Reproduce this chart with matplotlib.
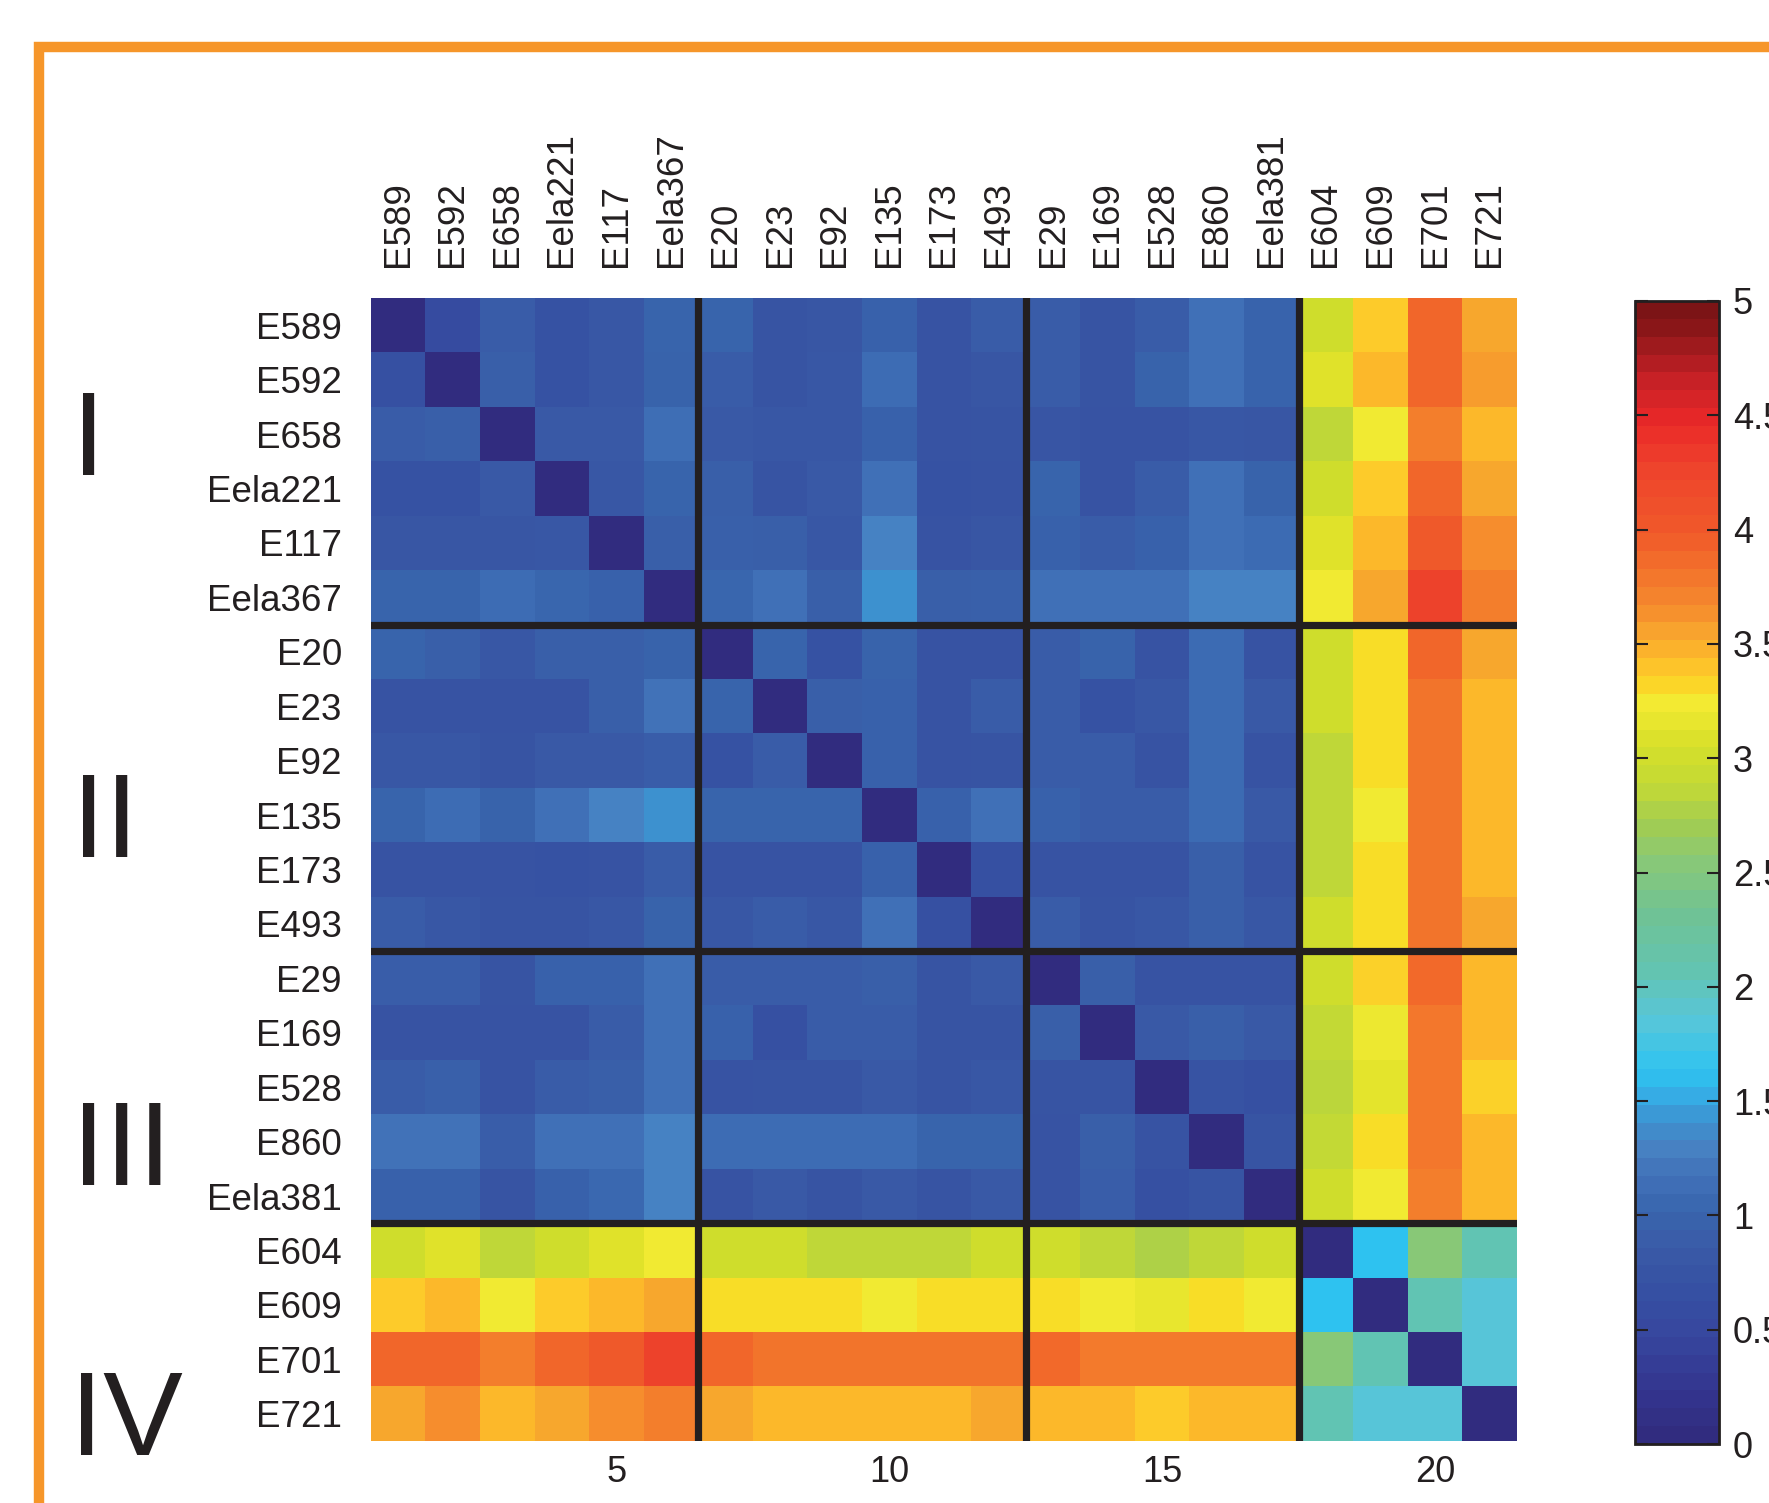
import numpy as np
import matplotlib
matplotlib.use("Agg")
import matplotlib.pyplot as plt
from matplotlib.colors import LinearSegmentedColormap, Normalize
from matplotlib.lines import Line2D
import matplotlib.cm as cm

plt.rcParams['font.family'] = ['Liberation Sans', 'DejaVu Sans']

# ---------------- data ----------------
strains = ["E589", "E592", "E658", "Eela221", "E117", "Eela367",
           "E20", "E23", "E92", "E135", "E173", "E493",
           "E29", "E169", "E528", "E860", "Eela381",
           "E604", "E609", "E701", "E721"]

group_names = ["I", "II", "III", "IV"]
group_boundaries = [6, 12, 17]          # number of strains before each separator
bottom_ticks = [5, 10, 15, 20]
cbar_ticks = [0, 0.5, 1, 1.5, 2, 2.5, 3, 3.5, 4, 4.5, 5]

dist = [
 [0.00,0.55,0.85,0.70,0.80,1.00, 1.00,0.75,0.78,0.95,0.72,0.85, 0.85,0.75,0.85,1.15,0.98, 3.00,3.38,3.92,3.55],
 [0.65,0.00,0.90,0.70,0.80,0.97, 0.85,0.75,0.80,1.10,0.72,0.78, 0.85,0.75,0.97,1.15,0.98, 3.12,3.45,3.92,3.60],
 [0.85,0.90,0.00,0.82,0.82,1.12, 0.82,0.80,0.80,0.95,0.72,0.75, 0.76,0.72,0.72,0.80,0.78, 2.87,3.25,3.75,3.45],
 [0.70,0.70,0.82,0.00,0.80,1.00, 0.90,0.75,0.82,1.15,0.70,0.72, 1.00,0.72,0.85,1.15,0.97, 3.00,3.38,3.92,3.55],
 [0.78,0.78,0.78,0.80,0.00,0.90, 0.92,0.90,0.80,1.28,0.72,0.78, 0.95,0.85,0.95,1.15,1.08, 3.12,3.45,4.00,3.67],
 [1.00,1.00,1.10,1.02,0.95,0.00, 1.02,1.15,0.90,1.40,0.90,0.92, 1.15,1.15,1.15,1.28,1.28, 3.25,3.55,4.30,3.75],
 [1.00,0.90,0.80,0.90,0.90,0.97, 0.00,1.00,0.70,0.97,0.72,0.72, 0.85,0.97,0.72,1.08,0.72, 3.00,3.30,3.92,3.55],
 [0.72,0.72,0.72,0.72,0.90,1.17, 1.00,0.00,0.90,0.95,0.72,0.85, 0.85,0.68,0.80,1.08,0.82, 3.00,3.30,3.82,3.45],
 [0.80,0.80,0.75,0.82,0.82,0.88, 0.70,0.85,0.00,0.95,0.72,0.75, 0.85,0.85,0.72,1.08,0.72, 2.87,3.30,3.82,3.45],
 [1.00,1.10,0.97,1.15,1.28,1.40, 1.00,1.00,1.00,0.00,0.95,1.15, 0.95,0.85,0.85,1.08,0.82, 2.87,3.25,3.82,3.45],
 [0.72,0.72,0.72,0.68,0.72,0.85, 0.72,0.72,0.72,0.95,0.00,0.65, 0.72,0.72,0.72,0.90,0.72, 2.87,3.30,3.82,3.45],
 [0.85,0.80,0.75,0.75,0.80,0.97, 0.80,0.85,0.80,1.15,0.65,0.00, 0.85,0.75,0.80,0.90,0.80, 3.00,3.30,3.82,3.55],
 [0.88,0.88,0.75,0.95,0.95,1.15, 0.85,0.85,0.85,0.90,0.75,0.82, 0.00,0.90,0.72,0.72,0.72, 3.00,3.35,3.90,3.45],
 [0.72,0.72,0.72,0.72,0.85,1.15, 0.95,0.65,0.85,0.85,0.75,0.75, 0.90,0.00,0.82,0.90,0.82, 2.90,3.22,3.80,3.45],
 [0.85,0.92,0.72,0.85,0.90,1.15, 0.72,0.75,0.75,0.82,0.75,0.80, 0.75,0.75,0.00,0.72,0.65, 2.85,3.15,3.80,3.35],
 [1.17,1.17,0.88,1.15,1.15,1.28, 1.10,1.10,1.10,1.10,1.00,1.00, 0.72,0.90,0.72,0.00,0.75, 2.90,3.30,3.80,3.45],
 [0.95,0.95,0.75,0.95,1.05,1.28, 0.72,0.82,0.75,0.82,0.75,0.82, 0.72,0.88,0.65,0.75,0.00, 3.00,3.25,3.75,3.45],
 [3.00,3.12,2.87,3.00,3.12,3.25, 3.00,3.00,2.87,2.87,2.87,3.00, 3.00,2.87,2.78,2.87,3.00, 0.00,1.62,2.55,2.05],
 [3.38,3.45,3.25,3.38,3.45,3.55, 3.30,3.30,3.30,3.25,3.30,3.30, 3.30,3.25,3.18,3.30,3.25, 1.62,0.00,2.05,1.85],
 [3.92,3.92,3.75,3.92,4.00,4.30, 3.92,3.82,3.82,3.82,3.82,3.82, 3.90,3.78,3.78,3.78,3.78, 2.55,2.05,0.00,1.85],
 [3.55,3.67,3.45,3.55,3.67,3.75, 3.55,3.45,3.45,3.45,3.45,3.55, 3.45,3.45,3.38,3.45,3.45, 2.05,1.85,1.85,0.00],
]

# ---------------- colormap ----------------
anchors = [
 (0.00,"#312c7f"),(0.20,"#33358f"),(0.45,"#37479e"),(0.65,"#3651a3"),
 (0.75,"#3855a4"),(0.85,"#3a5ca8"),(1.00,"#3865ad"),(1.10,"#3e6db5"),
 (1.17,"#4273b9"),(1.28,"#4782c3"),(1.40,"#3d92d0"),(1.50,"#37aae4"),
 (1.62,"#2ec4f1"),(1.85,"#58c6d8"),(2.05,"#62c4b3"),(2.30,"#6fc296"),
 (2.55,"#88c878"),(2.70,"#9fcc55"),(2.87,"#c0d838"),(3.00,"#cfdd2d"),
 (3.12,"#e0e22a"),(3.25,"#f2eb33"),(3.30,"#f9dd27"),(3.38,"#fdcd2a"),
 (3.45,"#fdb92a"),(3.55,"#f8a82e"),(3.67,"#f68d2d"),(3.75,"#f3802d"),
 (3.82,"#f3752c"),(3.92,"#f2672a"),(4.00,"#f05a2a"),(4.30,"#ee432c"),
 (4.50,"#ea2828"),(4.70,"#c42026"),(4.90,"#8e1719"),(5.00,"#7c1416"),
]
vmax = 5.0
cmap_fine = LinearSegmentedColormap.from_list("dist", [(v / vmax, c) for v, c in anchors], N=512)
cmap_bar = LinearSegmentedColormap.from_list("distbar", [(v / vmax, c) for v, c in anchors], N=64)
norm = Normalize(0, vmax)

W, H = 1769, 1503
fig = plt.figure(figsize=(W / 100, H / 100), dpi=100)

# heatmap axes
ax = fig.add_axes([371 / W, 62 / H, 1146 / W, 1143 / H])
M = np.array(dist)
n = len(strains)
ax.imshow(M, cmap=cmap_fine, norm=norm, aspect='auto', interpolation='nearest')
ax.set_xlim(-0.5, n - 0.5)
ax.set_ylim(n - 0.5, -0.5)
for s in ax.spines.values():
    s.set_visible(False)

line_col = "#231f20"
for b in group_boundaries:
    ax.axvline(b - 0.5, color=line_col, lw=5.2)
    ax.axhline(b - 0.5, color=line_col, lw=5.2)

ax.set_yticks(range(n))
ax.set_yticklabels(strains, fontsize=26.5, color="#231f20")
ax.tick_params(axis='y', length=0, pad=21)

ax.set_xticks([t - 1 for t in bottom_ticks])
ax.set_xticklabels([str(t) for t in bottom_ticks], fontsize=26, color="#231f20")
ax.tick_params(axis='x', length=0, pad=10)

sec = ax.secondary_xaxis('top')
sec.set_xticks(range(n))
sec.set_xticklabels(strains, rotation=90, fontsize=26.5, color="#231f20")
sec.tick_params(length=0, pad=22)
for s in sec.spines.values():
    s.set_visible(False)

# colorbar
cax = fig.add_axes([1635 / W, 59 / H, 84 / W, 1143 / H])
sm = cm.ScalarMappable(norm=norm, cmap=cmap_bar)
cb = fig.colorbar(sm, cax=cax, ticks=cbar_ticks)
cb.ax.set_yticklabels([("%g" % t) for t in cbar_ticks])
cb.ax.tick_params(axis='y', direction='in', length=9, width=1.5, left=True, right=True,
                  labelsize=26, pad=10, colors="#231f20")
cb.outline.set_linewidth(2)
cb.outline.set_edgecolor("#231f20")

# group numerals
numeral_pos = [(72, 475), (72, 857), (72, 1185), (70, 1455)]
for name, (x, y) in zip(group_names, numeral_pos):
    fig.text(x / W, 1 - y / H, name, fontsize=86, ha='left', va='baseline', color="#231f20")

# orange frame
orange = "#f6962a"
fx, fy = 39 / W, 1 - 47 / H
fig.add_artist(Line2D([fx, fx, 1.02], [-0.02, fy, fy], transform=fig.transFigure,
                      color=orange, lw=7.5, solid_joinstyle='miter', solid_capstyle='butt'))

fig.savefig("out.png", dpi=100)
